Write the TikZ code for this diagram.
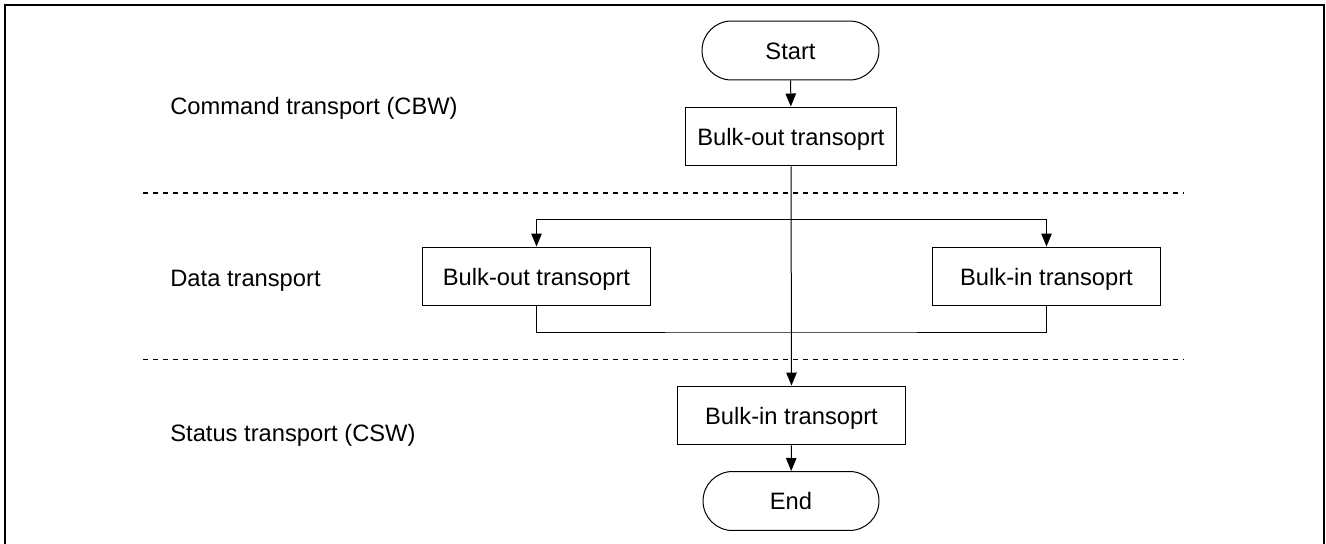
\documentclass[tikz,border=0pt]{standalone}
\usepackage{fontspec}
\setmainfont{Liberation Sans}
\usepackage{tikz}
\usetikzlibrary{positioning,arrows.meta}

\tikzset{
  transbox/.style={draw, line width=0.02cm, inner sep=0pt, minimum height=1.18cm,
    text height=9.7pt, text depth=0pt},
  termbox/.style={transbox, rounded corners=0.59cm},
  flow/.style={line width=0.02cm, -{Triangle[length=0.26cm, width=0.21cm]}},
  sepline/.style={line width=0.02cm, dash pattern=on 0.1cm off 0.1cm},
}

\begin{document}
\begin{tikzpicture}[x=0.02cm, y=-0.02cm, font=\fontsize{13.5}{16}\selectfont]
\useasboundingbox (0,0) rectangle (1326,544);
% frame
\draw[line width=0.04cm] (5,544) -- (5,5.5) -- (1324,5.5) -- (1324,544);
% phase separators
\draw[sepline] (143,193) -- (1183,193);
\draw[sepline] (143,359) -- (1183,359);
% phase labels
\node[anchor=base west, inner sep=0pt] (cbwlabel) at (170,115) {Command transport (CBW)};
\node[anchor=base west, inner sep=0pt] (datalabel) at (170,286) {Data transport};
\node[anchor=base west, inner sep=0pt] (cswlabel) at (170,441) {Status transport (CSW)};
% flow
\node[termbox, minimum width=3.54cm] (start) at (790.5,50.5) {Start};
\node[transbox, minimum width=4.24cm] (cbwout) at (791,136.5) {Bulk-out transoprt};
\node[transbox, minimum width=4.58cm] (dataout) at (536.5,276.5) {Bulk-out transoprt};
\node[transbox, minimum width=4.58cm] (datain) at (1046.5,276.5) {Bulk-in transoprt};
\node[transbox, minimum width=4.58cm] (cswin) at (791.5,415.5) {Bulk-in transoprt};
\node[termbox, minimum width=3.52cm] (fin) at (791,501) {End};
\coordinate (fork) at (791,219);
\coordinate (join) at (791,332);
\draw[flow] (start) -- (cbwout);
\draw[flow] (cbwout.south) -- (cswin.north);
\draw[flow] (fork) -| (dataout.north);
\draw[flow] (fork) -| (datain.north);
\draw[line width=0.02cm] (dataout.south) |- (join) -| (datain.south);
\draw[flow] (cswin) -- (fin);
\end{tikzpicture}
\end{document}
